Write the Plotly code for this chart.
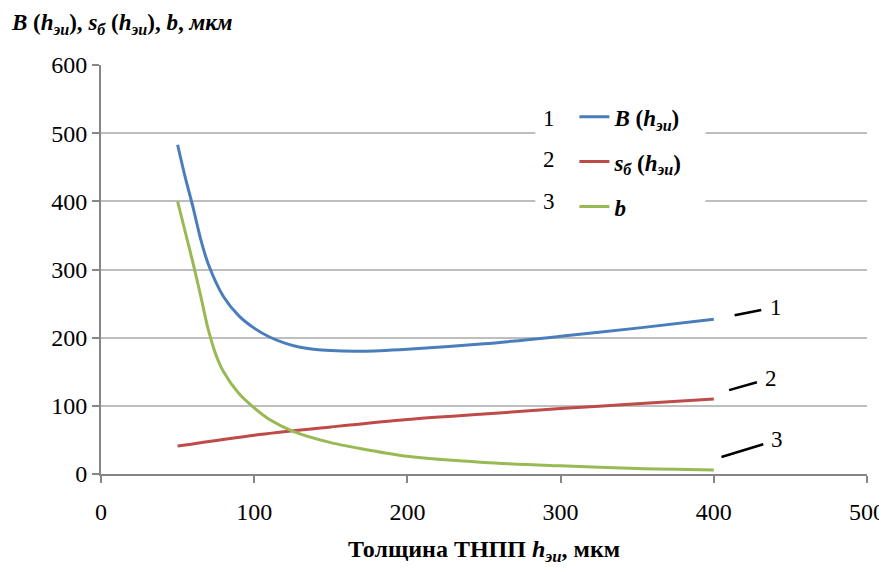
import plotly.graph_objects as go

h_B = [50, 55, 60, 65, 70, 80, 90, 100, 110, 120, 130, 150, 170, 200, 250, 300, 350, 400]
B = [483, 435, 392, 345, 308, 260, 232, 214, 201, 192, 186, 181, 180, 183, 191, 202, 214, 227]

h_s = [50, 100, 150, 200, 250, 300, 350, 400]
s = [41, 57, 69, 80, 88, 96, 103, 110]

h_b = [50, 55, 60, 65, 70, 75, 80, 90, 100, 110, 125, 150, 175, 200, 250, 300, 350, 400]
b = [400, 355, 310, 262, 212, 175, 150, 118, 97, 80, 63, 46, 35, 26, 17, 12, 8, 6]

x_ticks = [0, 100, 200, 300, 400, 500]
y_ticks = [0, 100, 200, 300, 400, 500, 600]

names = ["<b><i>B</i> (<i>h<sub>эи</sub></i>)</b>",
         "<b><i>s<sub>б</sub></i> (<i>h<sub>эи</sub></i>)</b>",
         "<b><i>b</i></b>"]
colors = ["#4A7EBB", "#BE4B48", "#98B954"]

FONT = "Liberation Serif, Times New Roman, serif"


def f(size):
    return dict(family=FONT, size=size, color="black")


fig = go.Figure()
for i, (xx, yy) in enumerate([(h_B, B), (h_s, s), (h_b, b)]):
    fig.add_trace(go.Scatter(x=xx, y=yy, mode="lines", name=names[i],
                             legendgroup=str(i),
                             line=dict(color=colors[i], width=3, shape="spline", smoothing=0.8)))

fig.update_layout(
    template="none",
    width=879, height=564,
    margin=dict(l=93, r=20, t=57, b=98, autoexpand=False),
    paper_bgcolor="white", plot_bgcolor="white",
    font=f(24),
    showlegend=True,
    legend=dict(x=0.618, y=0.926, xanchor="left", yanchor="top",
                bgcolor="rgba(0,0,0,0)", borderwidth=0, tracegroupgap=12,
                font=f(23)),
    xaxis=dict(range=[0, 500], tickvals=x_ticks, automargin=False,
               showgrid=False, showline=True, linecolor="#868686", linewidth=2,
               ticks="outside", ticklen=7, tickcolor="#868686", tickwidth=1.5,
               ticklabelstandoff=8,
               tickfont=f(24), zeroline=False,
               title=dict(text="<b>Толщина ТНПП <i>h<sub>эи</sub></i>, мкм</b>",
                          font=f(24), standoff=16)),
    yaxis=dict(range=[0, 600], tickvals=y_ticks, automargin=False,
               showgrid=True, gridcolor="#BEBEBE", gridwidth=1.5,
               showline=True, linecolor="#868686", linewidth=2,
               ticks="outside", ticklen=7, tickcolor="#868686", tickwidth=1.5,
               tickfont=f(24), zeroline=False),
)

# white legend background
fig.add_shape(type="rect", xref="paper", yref="paper", x0=0.567, x1=0.789,
              y0=0.609, y1=0.914, fillcolor="white", line=dict(width=0), layer="above")

# legend numbers
for num, yp in [("1", 0.870), ("2", 0.768), ("3", 0.667)]:
    fig.add_annotation(xref="paper", yref="paper", x=0.585, y=yp, text=num,
                       showarrow=False, font=f(23), xanchor="center", yanchor="middle")

# y axis title
fig.add_annotation(xref="paper", yref="paper", x=-0.119, y=1.138, xanchor="left", yanchor="top",
                   borderpad=0,
                   text="<b><i>B</i> (<i>h<sub>эи</sub></i>), <i>s<sub>б</sub></i> (<i>h<sub>эи</sub></i>), <i>b</i>, <i>мкм</i></b>",
                   showarrow=False, font=f(23))

# callouts
callouts = [("1", 413.6, 233, 41, -8), ("2", 410, 123, 42, -12), ("3", 405, 25, 56, -17)]
for t, xx, yy, ax, ay in callouts:
    fig.add_annotation(x=xx, y=yy, xref="x", yref="y", text=t, showarrow=True,
                       arrowhead=0, arrowwidth=2.5, arrowcolor="black",
                       ax=ax, ay=ay, standoff=0, startstandoff=7,
                       font=f(23))

fig.write_html("out.html")
